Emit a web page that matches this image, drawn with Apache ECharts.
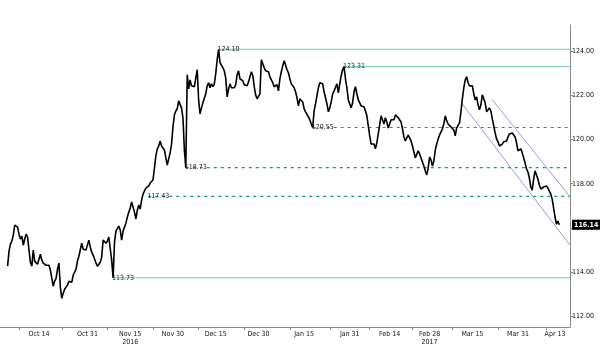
<!DOCTYPE html>
<html><head><meta charset="utf-8">
<script src="https://cdn.jsdelivr.net/npm/echarts@6/dist/echarts.min.js"></script>
<style>html,body{margin:0;padding:0;background:#fff}#c{width:600px;height:361px}</style>
</head><body><div id="c"></div>
<script>
// Price series: one reading every 12 hours starting 2016-10-03 00:00
const seriesStart = '2016-10-03T00:00:00Z';
const seriesStepHours = 12;
const prices = [
114.26,114.94,115.26,115.40,115.67,116.12,116.21,116.03,115.71,115.49,
115.62,115.21,115.49,115.71,115.58,114.99,114.44,114.26,114.99,114.49,
114.58,114.35,114.44,114.80,114.53,114.40,114.49,114.30,114.35,114.30,
114.08,114.03,113.35,113.58,113.71,114.12,114.40,113.30,112.80,113.03,
113.21,113.30,113.40,113.58,113.67,113.53,113.85,113.94,114.12,114.49,
114.71,114.80,115.30,115.03,115.08,114.99,114.99,115.44,115.12,114.90,
114.76,114.67,114.40,114.26,114.35,114.44,114.67,115.44,115.40,115.30,
115.40,115.58,115.67,114.53,113.73,115.35,115.85,115.76,116.08,115.90,
115.44,115.85,116.03,116.21,116.49,116.71,116.90,117.17,117.26,116.71,
116.40,116.80,117.03,116.85,117.26,117.53,117.67,117.80,117.80,117.90,
118.03,118.03,118.17,118.71,119.26,119.58,119.71,119.94,119.71,119.76,
119.53,119.17,118.85,118.80,119.40,119.80,120.58,121.12,121.30,121.40,
121.76,121.80,121.44,120.99,119.53,118.73,122.94,122.30,122.71,122.44,
122.53,122.40,122.49,123.17,121.80,121.17,121.44,121.67,121.76,122.08,
122.44,122.58,122.35,122.53,122.40,122.53,122.99,123.62,124.10,123.49,
123.40,123.26,123.12,122.80,121.94,122.30,122.53,122.35,122.44,122.35,
122.49,122.94,123.12,122.76,122.76,122.67,122.49,122.40,122.44,122.62,
122.85,123.08,122.90,122.40,122.03,121.85,121.76,122.08,123.62,123.44,
123.26,123.12,123.03,123.08,122.85,122.76,122.58,122.40,122.44,122.49,
122.21,122.76,123.08,123.35,123.58,123.53,123.17,123.03,122.76,122.53,
122.44,122.35,122.17,121.90,121.53,121.85,121.94,121.71,121.40,121.26,
121.30,121.03,120.90,120.71,120.55,121.30,121.62,121.99,122.35,122.58,
122.67,122.53,122.17,121.90,121.62,121.26,121.44,121.71,122.08,122.21,
122.21,122.53,122.12,122.53,122.90,123.17,123.31,122.76,122.35,121.80,
121.62,121.44,121.67,122.17,122.40,122.08,121.80,121.71,121.53,121.49,
121.49,121.30,121.08,120.62,120.17,119.80,119.80,119.80,119.58,119.85,
120.26,120.67,121.08,120.90,120.71,120.99,120.80,120.53,120.71,120.90,
120.90,120.90,121.12,121.21,120.99,120.94,120.80,120.49,120.12,119.94,
120.08,120.21,120.12,119.94,119.71,119.44,119.17,119.08,119.49,119.35,
119.17,118.99,118.80,118.58,118.40,118.71,119.21,119.08,118.80,119.03,
119.53,119.80,120.03,120.21,120.30,120.49,120.71,121.08,120.85,120.71,
120.62,120.58,120.58,120.44,120.17,120.53,120.58,120.76,121.26,121.85,
122.35,122.71,122.85,122.58,122.44,122.49,122.44,122.08,121.80,121.94,
121.58,121.35,121.58,122.03,122.08,121.67,121.26,121.30,121.44,121.30,
120.94,120.62,120.30,120.03,119.90,119.71,119.67,119.80,119.90,119.85,
119.94,120.12,120.26,120.30,120.30,120.35,120.12,119.85,119.49,119.53,
119.58,119.40,119.17,118.94,118.67,118.53,118.26,117.85,117.71,118.21,
118.58,118.53,118.21,117.94,117.76,117.67,117.85,117.80,117.90,117.80,
117.67,117.53,117.30,116.90,116.49,116.17,116.30,116.14
];
const lastPrice = 116.14;

// Horizontal support / resistance levels
const levelValues = [124.10, 123.31, 120.55, 118.73, 117.43, 113.73];
const levelStarts = ['2016-12-16T00:00:00Z','2017-01-29T00:00:00Z','2017-01-18T00:00:00Z','2016-12-04T12:00:00Z','2016-11-21T08:00:00Z','2016-11-09T00:00:00Z'];
const levelDashed = [false, false, true, true, true, false];

// Descending channel
const channelStarts = ['2017-03-11T07:00:00Z','2017-03-21T19:00:00Z'];
const channelStartValues = [121.65, 121.84];
const channelEndValues = [115.21, 117.41];

// Axes
const xMin = '2016-09-30T08:00:00Z';
const xMax = '2017-04-18T06:00:00Z';
const xLabelDates = ['2016-10-14','2016-10-31','2016-11-15','2016-11-30','2016-12-15','2016-12-30','2017-01-15','2017-01-31','2017-02-14','2017-02-28','2017-03-15','2017-03-31','2017-04-13'];
const xLabelTexts = ['Oct 14','Oct 31','Nov 15\n2016','Nov 30','Dec 15','Dec 30','Jan 15','Jan 31','Feb 14','Feb 28\n2017','Mar 15','Mar 31','Apr 13'];
const xTickDates = ['2016-10-07','2016-10-22','2016-11-07','2016-11-23','2016-12-09','2016-12-25','2017-01-10','2017-01-24','2017-02-07','2017-02-22','2017-03-08','2017-03-24','2017-04-10'];
const yTickValues = [112, 114, 116, 118, 120, 122, 124];
const yMin = 111.5, yMax = 125.2;

const ts = s => new Date(s.length === 10 ? s + 'T00:00:00Z' : s).getTime();
const t0 = ts(seriesStart);
const data = prices.map((v, i) => [t0 + i * seriesStepHours * 3600000, v]);
const labelMap = {};
xLabelDates.forEach((d, i) => { labelMap[ts(d)] = xLabelTexts[i]; });
const FONT = '"Liberation Sans Narrow","DejaVu Sans Condensed",sans-serif';

const series = [{
  type: 'line', data: data, showSymbol: false, symbol: 'none',
  lineStyle: { color: '#000', width: 1.6 }, z: 5, silent: true,
  markLine: { silent: true, symbol: 'none', animation: false, z: 6,
    data: [{ yAxis: lastPrice, lineStyle: { color: 'rgba(0,0,0,0)', width: 0 },
      label: { show: true, position: 'end', distance: 2, formatter: lastPrice.toFixed(2), color: '#fff', backgroundColor: '#000', padding: [2, 2, 1, 2], fontSize: 7, fontWeight: 'bold', fontFamily: FONT } }] }
}];

levelValues.forEach((v, i) => {
  series.push({
    type: 'line', silent: true, z: 2, showSymbol: true, symbol: 'circle', symbolSize: 0,
    lineStyle: levelDashed[i] ? { color: '#0f9f55', width: 1.2, type: [3, 4] } : { color: '#66d19c', width: 1, type: 'solid' },
    itemStyle: { color: 'rgba(0,0,0,0)' },
    data: [
      { value: [ts(levelStarts[i]), v], label: { show: true, position: 'right', distance: -1, formatter: v.toFixed(2), color: '#222', fontSize: 7, fontFamily: FONT } },
      { value: [ts(xMax), v], label: { show: false } }
    ]
  });
});
channelStarts.forEach((s, i) => {
  series.push({
    type: 'line', silent: true, z: 2, showSymbol: false, symbol: 'none',
    lineStyle: { color: '#9c9ce0', width: 1 },
    data: [[ts(s), channelStartValues[i]], [ts(xMax), channelEndValues[i]]]
  });
});

const chart = echarts.init(document.getElementById('c'), null, { renderer: 'canvas' });
chart.setOption({
  animation: false,
  backgroundColor: '#fff',
  grid: { left: 0, right: 30, top: 25, bottom: 34 },
  xAxis: {
    type: 'value', min: ts(xMin), max: ts(xMax), scale: true,
    axisLine: { show: true, onZero: false, lineStyle: { color: '#8a8a8a', width: 1 } },
    axisTick: { show: true, length: 3, lineStyle: { color: '#8a8a8a' }, customValues: xTickDates.map(ts) },
    axisLabel: { show: true, customValues: xLabelDates.map(ts), formatter: v => labelMap[v] || '', color: '#111', fontSize: 7, fontFamily: FONT, margin: 3, lineHeight: 8, hideOverlap: false },
    splitLine: { show: false }
  },
  yAxis: {
    type: 'value', position: 'right', min: yMin, max: yMax, scale: true,
    axisLine: { show: true, lineStyle: { color: '#8a8a8a', width: 1 } },
    axisTick: { show: true, length: 3, inside: false, lineStyle: { color: '#8a8a8a' }, customValues: yTickValues },
    axisLabel: { show: true, customValues: yTickValues, formatter: v => Number(v).toFixed(2), color: '#111', fontSize: 7, fontFamily: FONT, margin: 2 },
    splitLine: { show: false }
  },
  series: series
});
</script></body></html>
